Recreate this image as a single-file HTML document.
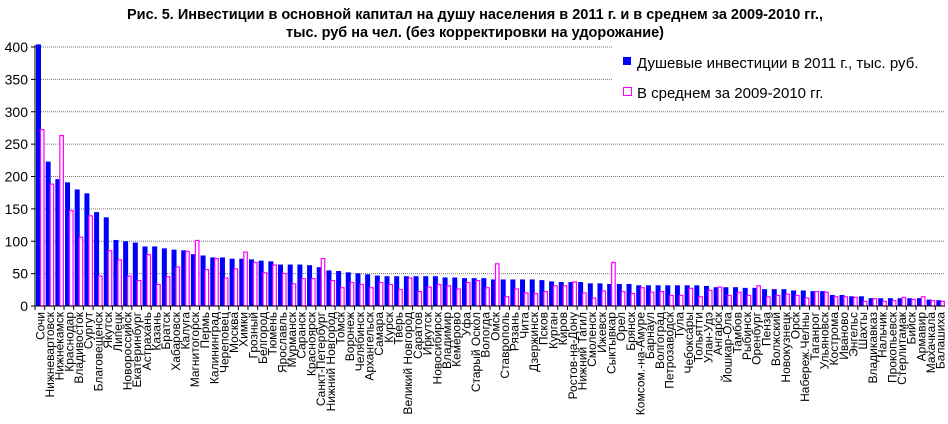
<!DOCTYPE html>
<html><head><meta charset="utf-8"><style>
body{margin:0;background:#fff;}
svg{display:block;font-family:"Liberation Sans",Arial,sans-serif;}
</style></head><body>
<svg id="c" width="948" height="424" xmlns="http://www.w3.org/2000/svg">
<text x="475" y="19" text-anchor="middle" font-weight="bold" font-size="14.5">Рис. 5. Инвестиции в основной капитал на душу населения в 2011 г. и в среднем за 2009-2010 гг.,</text>
<text x="475" y="37" text-anchor="middle" font-weight="bold" font-size="14.5">тыс. руб на чел. (без корректировки на удорожание)</text>
<g id="g"></g>
<rect x="613" y="44" width="335" height="62" fill="#fff"/>
<rect x="623" y="57" width="8" height="8" fill="#0000ff"/>
<text x="637" y="68" font-size="15">Душевые инвестиции в 2011 г., тыс. руб.</text>
<rect x="623.5" y="87.5" width="8" height="8" fill="#fff" stroke="#ff00ff"/>
<text x="637" y="98" font-size="15">В среднем за 2009-2010 гг.</text>
</svg>
<script>
var names=["Сочи","Нижневартовск","Нижнекамск","Краснодар","Владивосток","Сургут","Благовещенск","Якутск","Липецк","Новороссийск","Екатеринбург","Астрахань","Казань","Братск","Хабаровск","Калуга","Магнитогорск","Пермь","Калининград","Череповец","Москва","Химки","Грозный","Белгород","Тюмень","Ярославль","Мурманск","Саранск","Красноярск","Санкт-Петербург","Нижний Новгород","Томск","Воронеж","Челябинск","Архангельск","Самара","Курск","Тверь","Великий Новгород","Саратов","Иркутск","Новосибирск","Владимир","Кемерово","Уфа","Старый Оскол","Вологда","Омск","Ставрополь","Рязань","Чита","Дзержинск","Псков","Курган","Киров","Ростов-на-Дону","Нижний Тагил","Смоленск","Ижевск","Сыктывкар","Орел","Брянск","Комсом.-на-Амуре","Барнаул","Волгоград","Петрозаводск","Тула","Чебоксары","Тольятти","Улан-Удэ","Ангарск","Йошкар-Ола","Тамбов","Рыбинск","Оренбург","Пенза","Волжский","Новокузнецк","Орск","Набереж.Челны","Таганрог","Ульяновск","Кострома","Иваново","Энгельс","Шахты","Владикавказ","Нальчик","Прокопьевск","Стерлитамак","Бийск","Армавир","Махачкала","Балашиха"];
var b=[404,223,196,191,180,174,145,137,102,100,98,92,92,89,87,86,80,78,75,75,73,73,72,70,69,64,64,64,63,60,55,54,52,50.5,49,47,46,46,46,46,46,46,44,44,43,43,43,41,41,41,41,41,40,38,37,37,37,35,35,34,34,34,32,32,32,32,32,32,32,31,29,29,29,28,28,26,26,26,24,24,23,23,17,17,15,15,12,12,12,12,12,12,10,9];
var p=[273,189,264,148,107,140,47,86,72,47,40,80,34,46,61,85,102,57,74,44,58,84,68,52,64,51,35,43,43,74,40,29,37,34,29,37,34,26,44,23,30,34,32,27,37,40,29,66,15,27,21,20,23,32,32,38,21,13,24,68,23,20,29,22,23,17,17,28,15,25,30,17,22,17,32,15,17,19,17,13,23,22,15,15,14,8,12,8,9,14,11,15,9,8];
var s='',y0=306,k=0.6475,x0=35,w=910/94;
for(var v=50;v<=400;v+=50){var y=y0-v*k;s+='<line x1="35" x2="945" y1="'+y+'" y2="'+y+'" stroke="#777" stroke-dasharray="1,1" stroke-width="1"/>';}
for(var v=0;v<=400;v+=50){var y=y0-v*k;s+='<text x="28" y="'+(y+5)+'" text-anchor="end" font-size="14">'+v+'</text><line x1="31" x2="35" y1="'+y+'" y2="'+y+'" stroke="#000"/>';}
for(var i=0;i<94;i++){var x=x0+i*w;
s+='<rect x="'+(x+1)+'" y="'+(y0-b[i]*k)+'" width="5" height="'+(b[i]*k)+'" fill="#0000ff"/>';
s+='<rect x="'+(x+5.5)+'" y="'+(y0-p[i]*k+0.5)+'" width="3.5" height="'+(p[i]*k-0.5)+'" fill="#fff" stroke="#ff00ff" stroke-width="1.2"/>';
s+='<line x1="'+x+'" x2="'+x+'" y1="306" y2="310" stroke="#000"/>';
var cx=x+w/2+4.5;
s+='<text transform="translate('+cx+',312) rotate(-90)" text-anchor="end" font-size="12" textLength="'+'" >'+names[i]+'</text>';}
s=s.replace(/ textLength="" /g,' ');
s+='<line x1="35" x2="35" y1="45" y2="306" stroke="#000"/><line x1="35" x2="945" y1="306" y2="306" stroke="#000"/>';
document.getElementById('g').innerHTML=s;
</script>
</body></html>
